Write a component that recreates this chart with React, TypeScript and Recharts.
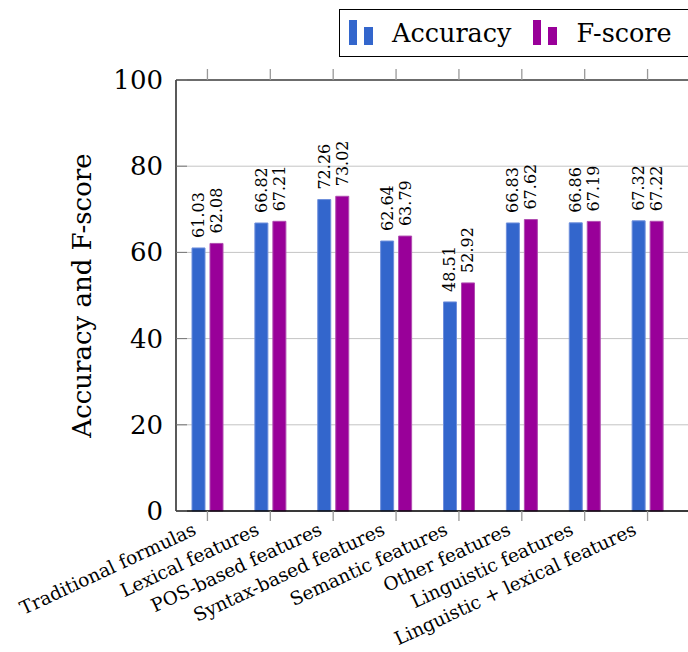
import React from 'react';
import { BarChart, Bar, XAxis, YAxis, CartesianGrid, LabelList } from 'recharts';

const categories = [
  'Traditional formulas',
  'Lexical features',
  'POS-based features',
  'Syntax-based features',
  'Semantic features',
  'Other features',
  'Linguistic features',
  'Linguistic + lexical features',
];
const accuracy = [61.03, 66.82, 72.26, 62.64, 48.51, 66.83, 66.86, 67.32];
const fscore = [62.08, 67.21, 73.02, 63.79, 52.92, 67.62, 67.19, 67.22];
const yTicks = [0, 20, 40, 60, 80, 100];

const data = categories.map((name, i) => ({ name, accuracy: accuracy[i], fscore: fscore[i] }));

const FONT = '"DejaVu Serif", serif';
const BLUE = '#3366cc';
const PURPLE = '#990099';

// rotated category label, right end sits just left of / below the tick
const CategoryTick = (props: any) => {
  const { x, y, payload } = props;
  const ax = x - 10;
  const ay = y + 11;
  return (
    <text
      x={ax}
      y={ay}
      transform={`rotate(-25, ${ax}, ${ay})`}
      textAnchor="end"
      fontFamily={FONT}
      fontSize={18.5}
      fill="#000"
    >
      {payload.value}
    </text>
  );
};

const ValueTick = (props: any) => {
  const { x, y, payload } = props;
  return (
    <g>
      <line x1={x + 13} x2={x + 24} y1={y} y2={y} stroke="#777" strokeWidth={1} />
      <text x={x} y={y} textAnchor="end" dominantBaseline="central" fontFamily={FONT} fontSize={26} fill="#000">
        {payload.value}
      </text>
    </g>
  );
};

const BarValue = (props: any) => {
  const { x, y, width, value } = props;
  const cx = x + width / 2;
  const cy = y - 10;
  return (
    <text
      x={cx}
      y={cy}
      transform={`rotate(-90, ${cx}, ${cy})`}
      textAnchor="start"
      dominantBaseline="central"
      fontFamily={FONT}
      fontSize={16}
      fill="#000"
    >
      {Number(value).toFixed(2)}
    </text>
  );
};

const LegendIcon = ({ color }: { color: string }) => (
  <svg width={26} height={30} style={{ display: 'block' }}>
    <rect x={1} y={5} width={8} height={25} fill={color} />
    <rect x={16} y={12} width={9} height={18} fill={color} />
  </svg>
);

export default function App() {
  return (
    <div style={{ position: 'absolute', left: 0, top: 0, width: 688, height: 652, overflow: 'hidden', background: '#fff' }}>
      <BarChart
        width={720}
        height={652}
        data={data}
        margin={{ top: 50, right: 0, bottom: 0, left: 0 }}
        barSize={13}
        barGap={5}
      >
        <CartesianGrid vertical={false} stroke="#c4c4c4" strokeWidth={1} />
        <XAxis
          dataKey="name"
          height={141}
          interval={0}
          padding={{ left: 0, right: 41 }}
          axisLine={{ stroke: '#000', strokeWidth: 1.3 }}
          tickLine={{ stroke: '#999', strokeWidth: 1.3 }}
          tickSize={10}
          tick={<CategoryTick />}
        />
        <XAxis
          xAxisId="top"
          dataKey="name"
          orientation="top"
          height={30}
          interval={0}
          padding={{ left: 0, right: 41 }}
          axisLine={{ stroke: '#444', strokeWidth: 1.3 }}
          tickLine={{ stroke: '#999', strokeWidth: 1.3 }}
          tickSize={11}
          tickFormatter={() => ''}
        />
        <YAxis
          width={176}
          domain={[0, 100]}
          ticks={yTicks}
          interval={0}
          tickSize={0}
          tickMargin={13}
          axisLine={{ stroke: '#000', strokeWidth: 1.3 }}
          tickLine={false}
          tick={<ValueTick />}
          label={{
            value: 'Accuracy and F-score',
            angle: -90,
            position: 'center',
            dx: -6,
            style: { fontFamily: FONT, fontSize: 26, fill: '#000' },
          }}
        />
        <Bar dataKey="accuracy" name="Accuracy" fill={BLUE} stroke="#6f8fdc" strokeWidth={1} isAnimationActive={false}>
          <LabelList dataKey="accuracy" content={<BarValue />} />
        </Bar>
        <Bar dataKey="fscore" name="F-score" fill={PURPLE} stroke="#b04cb0" strokeWidth={1} isAnimationActive={false}>
          <LabelList dataKey="fscore" content={<BarValue />} />
        </Bar>
      </BarChart>
      <div
        style={{
          position: 'absolute',
          left: 339,
          top: 9,
          width: 400,
          height: 48,
          border: '1.3px solid #000',
          display: 'flex',
          alignItems: 'center',
          fontFamily: FONT,
          fontSize: 25.5,
          boxSizing: 'border-box',
        }}
      >
        <div style={{ marginLeft: 8, marginTop: -6 }}><LegendIcon color={BLUE} /></div>
        <span style={{ marginLeft: 18 }}>Accuracy</span>
        <div style={{ marginLeft: 21, marginTop: -6 }}><LegendIcon color={PURPLE} /></div>
        <span style={{ marginLeft: 18 }}>F-score</span>
      </div>
    </div>
  );
}
